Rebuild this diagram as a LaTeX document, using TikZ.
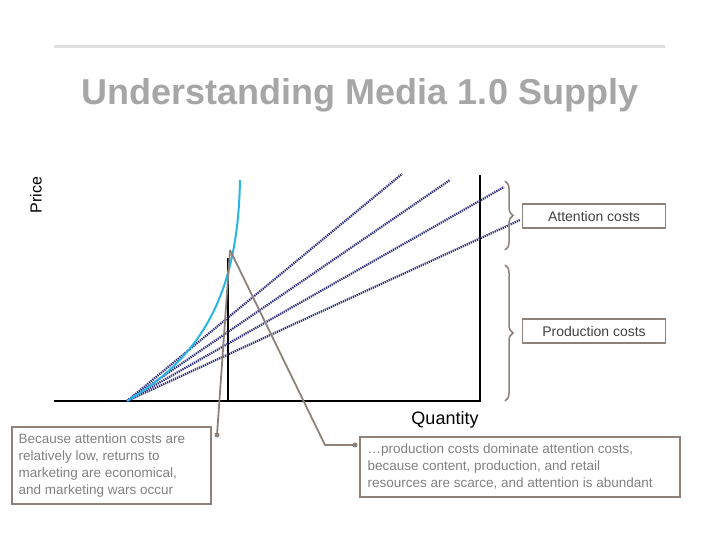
\documentclass[tikz,border=0pt]{standalone}
\usepackage{fontspec}
\setmainfont{Liberation Sans}
\usetikzlibrary{decorations.pathreplacing}
\definecolor{tgray}{HTML}{A6A6A6}
\definecolor{bgray}{HTML}{8C8279}
\definecolor{dblue}{HTML}{30307A}
\definecolor{cyanc}{HTML}{29B6E6}
\begin{document}
\begin{tikzpicture}[x=1pt,y=-1pt,
  dline/.style={dblue,line width=2.2pt,dash pattern=on 1.3pt off 0.9pt},
  brace/.style={bgray,line width=1.5pt,decorate,decoration={brace,amplitude=8pt}},
  lbox/.style={draw=bgray,line width=1.5pt,inner sep=0pt},
  callout/.style={bgray,line width=1.8pt},
  txt/.style={text=gray,font=\fontsize{13.5}{17}\selectfont,align=left,anchor=north west}]
\useasboundingbox (0,0) rectangle (720,540);
\draw[line width=3pt,color=black!12] (54,47) -- (665,47);
\node[text=tgray,font=\bfseries\fontsize{36}{40}\selectfont] (title) at (360,95) {Understanding Media 1.0 Supply};
\node[rotate=90,font=\fontsize{16}{18}\selectfont] (price) at (36,195) {Price};
\node[font=\fontsize{18}{20}\selectfont] (qty) at (445,420) {Quantity};
% axes
\draw[line width=1.5pt] (54,401) -- (480,401) -- (480,175);
\draw[line width=1.5pt] (228,258) -- (228,401);
% dotted lines
\coordinate (o) at (127,401);
\draw[dline] (o) -- (402,174);
\draw[dline] (o) -- (450,180);
\draw[dline] (o) -- (504,187);
\draw[dline] (o) -- (520,220);
% curve
\draw[cyanc,line width=2pt] (127,401) .. controls (205,355) and (238,290) .. (240,180);
% braces
\draw[brace] (505,181) -- (505,250);
\draw[brace] (505,265) -- (505,401);
\node[lbox,minimum width=143pt,minimum height=24pt,font=\fontsize{14}{16}\selectfont,text=black!75] (att) at (594,216) {Attention costs};
\node[lbox,minimum width=143pt,minimum height=24pt,font=\fontsize{14}{16}\selectfont,text=black!75] (prod) at (594,331) {Production costs};
% text boxes
\draw[bgray,line width=1.5pt] (12,427) rectangle (211,504);
\node[txt] (lt) at (15,430) {Because attention costs are\\relatively low, returns to\\marketing are economical,\\and marketing wars occur};
\draw[bgray,line width=1.5pt] (360,437) rectangle (680,497);
\node[txt] (rt) at (364,440) {\dots production costs dominate attention costs,\\because content, production, and retail\\resources are scarce, and attention is abundant};
% callouts
\coordinate (tip) at (230,250);
\coordinate (ld) at (217,435);
\coordinate (rc) at (325,445);
\coordinate (rd) at (355,445);
\draw[callout] (tip) -- (ld);
\fill[bgray] (ld) circle (2.5pt);
\draw[callout] (tip) -- (rc) -- (rd);
\fill[bgray] (rd) circle (2.5pt);
\end{tikzpicture}
\end{document}
